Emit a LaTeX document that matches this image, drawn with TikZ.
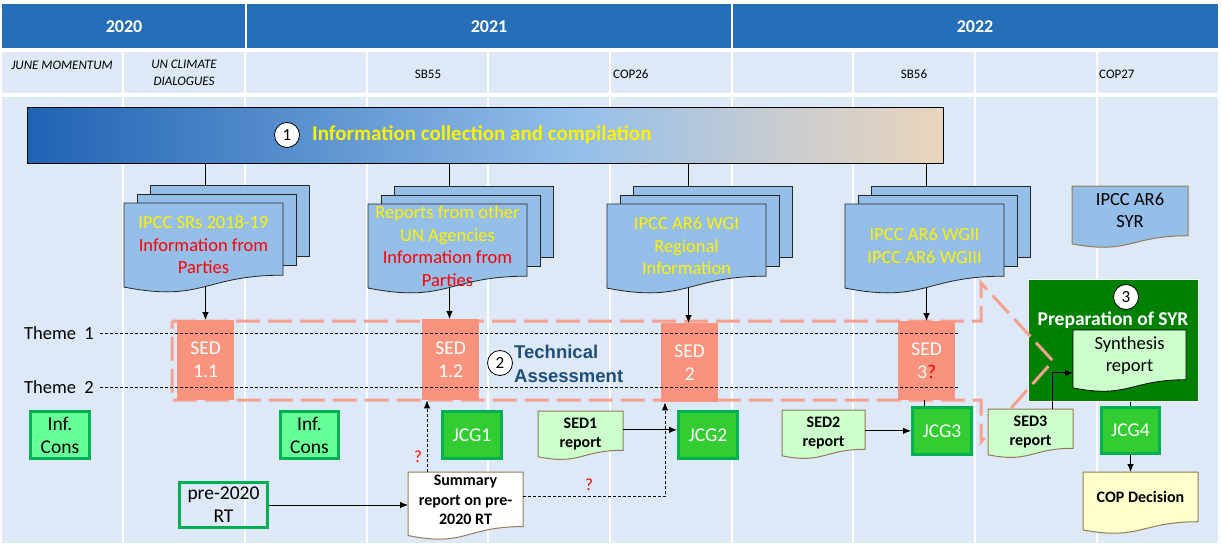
\documentclass[tikz,border=0pt]{standalone}
\usepackage{fontspec}
\setmainfont{Carlito}
\newfontfamily\arialf{Liberation Sans}
\usetikzlibrary{arrows.meta}
\definecolor{hdr}{HTML}{276EB8}
\definecolor{lightbg}{HTML}{DDE9F7}
\definecolor{docblue}{HTML}{95BEE9}
\definecolor{salmon}{HTML}{F9937D}
\definecolor{dsalmon}{HTML}{F5A090}
\definecolor{infg}{HTML}{66FF99}
\definecolor{boxg}{HTML}{00B050}
\definecolor{jcgg}{HTML}{33CC33}
\definecolor{prepgreen}{HTML}{008000}
\definecolor{lgreen}{HTML}{CCFFCC}
\definecolor{lyellow}{HTML}{FFFFCC}
\definecolor{brownb}{HTML}{947B57}
\definecolor{techblue}{HTML}{1F4E79}
\definecolor{barA}{HTML}{1F63B3}
\definecolor{barB}{HTML}{94BFEA}
\definecolor{barC}{HTML}{C8CCD0}
\definecolor{barD}{HTML}{EAD5BD}
\pgfdeclarehorizontalshading{infobar}{100bp}{color(0bp)=(barA); color(25bp)=(barA); color(55bp)=(barB); color(66bp)=(barC); color(75bp)=(barD); color(100bp)=(barD)}
\newcommand{\fsz}[2]{\fontsize{#1}{#2}\selectfont}
% document (wavy bottom) outline: x y w h style
\newcommand{\docpath}[5]{%
  \path[#5] (#1,#2) -- ++(#3,0) -- ++(0,{0.802*#4}) .. controls ++({-0.5*#3},0) and ({#1+0.5*#3},{#2+1.1075*#4}) .. ({#1},{#2+0.934*#4}) -- cycle;}
% name x y w h pathstyle textstyle text
\newcommand{\docnode}[8]{%
  \docpath{#2}{#3}{#4}{#5}{#6}
  \node[inner sep=0,outer sep=0,minimum width=#4,minimum height={0.933*#5},anchor=north west] (#1) at (#2,#3) {};
  \node[align=center,inner sep=0,#7] (#1-t) at (#1.center) {#8};}
\tikzset{
  hdrtxt/.style={text=white, font=\bfseries\fsz{18}{20}},
  rowtxt/.style={font=\fsz{13}{16.5}, text=black, align=center, inner sep=0},
  sheet/.style={fill=docblue, draw=black!85, line width=0.8, inner sep=0, anchor=north west, minimum width=159, minimum height=71},
  frontdoc/.style={fill=docblue, draw=black!85, line width=0.8},
  doctxt/.style={font=\fsz{18.5}{22.5}},
  numcirc/.style={circle, draw=black, line width=0.8, fill=white, minimum size=25, inner sep=0, font=\fsz{17}{17}},
  sedbox/.style={fill=salmon, text=white, align=center, inner sep=0, anchor=north west, font=\fsz{19.5}{23}},
  infbox/.style={fill=infg, draw=boxg, line width=3, align=center, inner sep=0, font=\fsz{19.5}{23}, minimum width=59, minimum height=47},
  jcgbox/.style={fill=jcgg, draw=boxg, line width=3, text=white, inner sep=0, font=\fsz{19.5}{23}, minimum width=59, minimum height=47},
  themedash/.style={draw=black, line width=0.9, dash pattern=on 3pt off 2pt},
  chev/.style={draw=dsalmon, line width=3, dash pattern=on 24pt off 8pt},
  arr/.style={draw=black, line width=0.9, -{Latex[length=8pt,width=6.5pt]}},
  darr/.style={arr, dash pattern=on 3pt off 2pt},
  plain/.style={draw=black, line width=0.9},
  reptxt/.style={font=\bfseries\fsz{16}{19.5}},
  qmark/.style={text=red, font=\fsz{17}{17}, inner sep=0},
}
\begin{document}
\begin{tikzpicture}[x=1pt,y=-1pt]
\useasboundingbox (0,0) rectangle (1222,548);
\fill[white] (0,0) rectangle (1222,548);
% header row
\fill[hdr] (2,4) rectangle (245,48);
\fill[hdr] (247,4) rectangle (731,48);
\fill[hdr] (733,4) rectangle (1218,48);
\node[hdrtxt] (y2020) at (124,27) {2020};
\node[hdrtxt] (y2021) at (489,27) {2021};
\node[hdrtxt] (y2022) at (975,27) {2022};
% event row and main area
\fill[lightbg] (2,52) rectangle (1218,93);
\fill[lightbg] (2,97) rectangle (1218,543);
\foreach \bx in {123,245,367,488,610,732,853,975,1097}{
  \draw[white,line width=2] (\bx,52) -- (\bx,93);
  \draw[white,line width=1.6] (\bx,97) -- (\bx,543);
}
\node[rowtxt,font=\itshape\fsz{13}{16.5}] (ev1) at (62,65) {JUNE MOMENTUM};
\node[rowtxt,font=\itshape\fsz{13}{16.5}] (ev2) at (184,73) {UN CLIMATE\\DIALOGUES};
\node[rowtxt] (ev3) at (428,74) {SB55};
\node[rowtxt,anchor=west] (ev4) at (613,74) {COP26};
\node[rowtxt] (ev5) at (914,74) {SB56};
\node[rowtxt,anchor=west] (ev6) at (1099,74) {COP27};
% information bar
\node[shade, shading=infobar, draw=black, line width=1, minimum width=916, minimum height=56, anchor=north west, inner sep=0] (bar) at (27,107) {};
\node[numcirc] (n1) at (287,135) {1};
\node[anchor=west, inner sep=0, text=yellow, font=\bfseries\fsz{21}{24}] (bartitle) at (312,135) {Information collection and compilation};
% multi-document stacks
\node[sheet] (d1b) at (150,185) {};
\node[sheet] (d1m) at (137,194) {};
\docnode{d1}{124}{203}{159}{90}{frontdoc}{doctxt}{\textcolor{yellow}{IPCC SRs 2018-19}\\\textcolor{red}{Information from}\\\textcolor{red}{Parties}}
\node[sheet] (d2b) at (394,186) {};
\node[sheet] (d2m) at (381,195) {};
\docnode{d2}{368}{204}{159}{90}{frontdoc}{doctxt}{\textcolor{yellow}{Reports from other}\\\textcolor{yellow}{UN Agencies}\\\textcolor{red}{Information from}\\\textcolor{red}{Parties}}
\node[sheet] (d3b) at (633,186) {};
\node[sheet] (d3m) at (620,195) {};
\docnode{d3}{607}{204}{159}{90}{frontdoc}{doctxt}{\textcolor{yellow}{IPCC AR6 WGI}\\\textcolor{yellow}{Regional}\\\textcolor{yellow}{Information}}
\node[sheet] (d4b) at (871,186) {};
\node[sheet] (d4m) at (858,195) {};
\docnode{d4}{845}{204}{159}{90}{frontdoc}{doctxt}{\textcolor{yellow}{IPCC AR6 WGII}\\\textcolor{yellow}{IPCC AR6 WGIII}}
\docnode{syr}{1072}{186}{116}{62}{fill=docblue,draw=brownb,line width=1}{doctxt,yshift=4.4}{IPCC AR6\\SYR}
% preparation of SYR
\node[fill=prepgreen, draw=white, line width=1, minimum width=170, minimum height=122, anchor=north west, inner sep=0] (prep) at (1028,279) {};
\node[numcirc] (n3) at (1126,297) {3};
\node[text=white, inner sep=0, font=\bfseries\fsz{19.5}{22}] (preptitle) at (1113,320) {Preparation of SYR};
\docnode{synth}{1073}{330}{113}{62}{fill=lgreen,draw=black,line width=0.8}{doctxt,yshift=3.5}{Synthesis\\report}
% technical assessment outline
\draw[chev] (172,321) -- (981,321) -- (981,283) -- (1053,361) -- (981,442) -- (981,400) -- (172,400) -- cycle;
% SED boxes
\node[sedbox, minimum width=57, minimum height=80] (sed11) at (177,320) {SED\\1.1};
\node[sedbox, minimum width=57, minimum height=81] (sed12) at (422,319) {SED\\1.2};
\node[sedbox, minimum width=57, minimum height=79] (sed2) at (661,323) {SED\\2};
\node[sedbox, minimum width=57, minimum height=79] (sed3) at (898,321) {SED\\3\textcolor{red}{?}};
\node[numcirc] (n2) at (500,363) {2};
\node[anchor=west, inner sep=0, align=left, text=techblue, font=\arialf\bfseries\fsz{18.5}{24.5}] (tech) at (514,364) {Technical\\Assessment};
% themes
\node[anchor=west, inner sep=2, font=\fsz{18.5}{22}] (th1) at (22,333) {Theme\ \ 1};
\node[anchor=west, inner sep=2, font=\fsz{18.5}{22}] (th2) at (22,387) {Theme\ \ 2};
\coordinate (th1e) at (958,333);
\coordinate (th2e) at (958,387);
\draw[themedash] ([xshift=4]th1.east) -- (th1e);
\draw[themedash] ([xshift=4]th2.east) -- (th2e);
% boxes
\node[infbox] (inf1) at (60,435) {Inf.\\Cons};
\node[infbox, minimum width=58] (inf2) at (309.5,435) {Inf.\\Cons};
\node[infbox, fill=none, minimum width=88, minimum height=45] (pre) at (223.5,505) {pre-2020\\RT};
\node[jcgbox] (jcg1) at (472,435) {JCG1};
\node[jcgbox] (jcg2) at (708,435) {JCG2};
\node[jcgbox] (jcg3) at (942,431) {JCG3};
\node[jcgbox, minimum width=58, minimum height=46] (jcg4) at (1130.5,430.5) {JCG4};
% report documents
\docnode{summ}{408}{472}{115}{68}{fill=white,draw=brownb,line width=1}{reptxt,yshift=3.5}{Summary\\report on pre-\\2020 RT}
\docnode{sed1r}{538}{411}{85}{49}{fill=lgreen,draw=brownb,line width=1}{reptxt}{SED1\\report}
\docnode{sed2r}{782}{410}{83}{49}{fill=lgreen,draw=brownb,line width=1}{reptxt}{SED2\\report}
\docnode{sed3r}{988}{409}{85}{49}{fill=lgreen,draw=brownb,line width=1}{reptxt}{SED3\\report}
\docnode{cop}{1083}{472}{115}{62}{fill=lyellow,draw=brownb,line width=1}{reptxt,yshift=4}{COP Decision}
% connectors
\foreach \n in {1,2,3,4}{
  \draw[plain] ([xshift=2]d\n.north |- bar.south) -- ([xshift=2]d\n.north |- d\n b.north);
}
\draw[arr] ([xshift=2]d1.south) -- ([xshift=2]d1.south |- sed11.north);
\draw[arr] ([xshift=2]d2.south) -- ([xshift=2]d2.south |- sed12.north);
\draw[arr] ([xshift=2]d3.south) -- ([xshift=2]d3.south |- sed2.north);
\draw[arr] ([xshift=2]d4.south) -- ([xshift=2]d4.south |- sed3.north);
\draw[arr] (pre.east) -- (pre.east -| summ.west);
\draw[darr] ([xshift=19]summ.north west) -- ([xshift=19]summ.north west |- sed12.south);
\draw[darr] ([yshift=7]summ.east) -| ([xshift=4]sed2.south west);
\draw[arr] ([yshift=4]sed1r.east) -- ([yshift=4]sed1r.east -| jcg2.west);
\draw[arr] ([yshift=2]sed2r.east) -- ([yshift=2]sed2r.east -| jcg3.west);
\draw[plain] ([xshift=-2]sed3.south) -- ([xshift=-2]sed3.south |- jcg3.north);
\draw[arr] ([xshift=64]sed3r.north west) |- ([yshift=-14]synth.west);
\draw[plain] (prep.south -| jcg4.north) -- (jcg4.north);
\draw[arr] (jcg4.south) -- (jcg4.south |- cop.north);
\node[qmark] (q1) at (418,457) {?};
\node[qmark] (q2) at (589,485) {?};
\end{tikzpicture}
\end{document}
